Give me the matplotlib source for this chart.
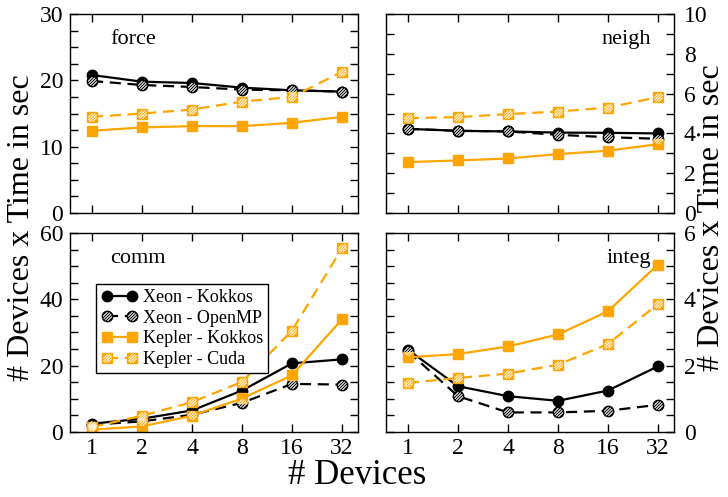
import numpy as np
import matplotlib.pyplot as plt
from matplotlib.path import Path
from matplotlib.legend_handler import HandlerTuple

plt.rcParams['font.family']='Liberation Serif'

devices=[1,2,4,8,16,32]
labels=["Xeon - Kokkos","Xeon - OpenMP","Kepler - Kokkos","Kepler - Cuda"]

force_xk=[20.8,19.8,19.6,18.9,18.5,18.3]
force_xo=[19.9,19.3,19.0,18.6,18.5,18.3]
force_kk=[12.4,12.9,13.1,13.1,13.6,14.5]
force_kc=[14.5,15.0,15.6,16.8,17.5,21.3]

neigh_xk=[4.23,4.13,4.10,4.04,4.03,4.00]
neigh_xo=[4.23,4.13,4.10,3.93,3.81,3.73]
neigh_kk=[2.56,2.64,2.74,2.96,3.13,3.46]
neigh_kc=[4.77,4.82,4.97,5.10,5.30,5.82]

comm_xk=[2.5,4.0,6.5,12.5,20.7,21.9]
comm_xo=[2.2,3.2,5.2,8.8,14.5,14.3]
comm_kk=[0.7,1.7,4.9,10.1,17.1,34.0]
comm_kc=[1.5,4.9,9.0,15.1,30.6,55.4]

integ_xk=[2.48,1.38,1.08,0.94,1.25,1.98]
integ_xo=[2.43,1.08,0.59,0.59,0.64,0.82]
integ_kk=[2.25,2.35,2.58,2.94,3.64,5.05]
integ_kc=[1.48,1.63,1.76,2.03,2.65,3.86]

orange='#FFA500'
x=np.arange(len(devices))

# hatch marker shapes: diagonal strokes clipped to a circle / square
def hatch_path(shape):
        verts=[]
        codes=[]
        for c in [-1.0,-0.33,0.33,1.0]:
                if shape=='o':
                        r=np.sqrt(2-c*c)
                        x0=(-c-r)/2
                        x1=(-c+r)/2
                        verts+=[(x0,x0+c),(x1,x1+c)]
                else:
                        if c>=0:
                                verts+=[(-1,-1+c),(1-c,1)]
                        else:
                                verts+=[(-1-c,-1),(1,1+c)]
                codes+=[Path.MOVETO,Path.LINETO]
        # invisible corners keep the scale the same as the base marker
        verts+=[(-1,-1),(-1,-1),(1,1),(1,1)]
        codes+=[Path.MOVETO,Path.LINETO,Path.MOVETO,Path.LINETO]
        return Path(verts,codes)

hatch_o=hatch_path('o')
hatch_s=hatch_path('s')

def series(ax,y,col,marker,dashed,hatched):
        ls=(0,(5,3)) if dashed else '-'
        ms=7.5 if marker=='o' else 7
        ln,=ax.plot(x,y,color=col,lw=1.6,ls=ls,marker=marker,ms=ms,mfc=col,mec=col,zorder=2)
        if not hatched:
                return ln
        hp=hatch_o if marker=='o' else hatch_s
        hl,=ax.plot(x,y,ls='none',marker=hp,ms=ms*0.85,mfc='none',mec='white',mew=0.75,zorder=3)
        return (ln,hl)

def panel(rect,xk,xo,kk,kc,ymax,major,minor,name,namex,ha,right,bottom):
        ax=fig.add_axes(rect)
        h1=series(ax,xk,'black','o',False,False)
        h2=series(ax,xo,'black','o',True,True)
        h3=series(ax,kk,orange,'s',False,False)
        h4=series(ax,kc,orange,'s',True,True)
        ax.set_xlim(-0.44,5.32)
        ax.set_ylim(0,ymax)
        ax.set_xticks(x)
        ax.set_yticks(np.arange(0,ymax+0.01,major))
        ax.set_yticks(np.arange(0,ymax+0.01,minor),minor=True)
        ax.tick_params(which='both',direction='in',top=True,right=True,length=6,width=1,labelsize=17)
        ax.tick_params(axis='y',pad=5)
        ax.tick_params(axis='x',pad=4)
        if bottom:
                ax.set_xticklabels([str(d) for d in devices])
        else:
                ax.set_xticklabels([])
        if right:
                ax.yaxis.tick_right()
                ax.tick_params(which='both',left=True,direction='in')
                ax.tick_params(axis='y',pad=7)
        for sp in ax.spines.values():
                sp.set_linewidth(1)
        ax.text(namex,0.85,name,transform=ax.transAxes,fontsize=16,ha=ha)
        return ax,[h1,h2,h3,h4]

fig=plt.figure(figsize=(7.28,4.97),dpi=100)
panel([0.0962,0.5714,0.3956,0.4004],force_xk,force_xo,force_kk,force_kc,30,10,2.5,"force",0.14,'left',False,False)
panel([0.5302,0.5714,0.3956,0.4004],neigh_xk,neigh_xo,neigh_kk,neigh_kc,10,2,1,"neigh",0.92,'right',True,False)
ax3,hs=panel([0.0962,0.1308,0.3956,0.4004],comm_xk,comm_xo,comm_kk,comm_kc,60,20,5,"comm",0.14,'left',False,True)
panel([0.5302,0.1308,0.3956,0.4004],integ_xk,integ_xo,integ_kk,integ_kc,6,2,0.5,"integ",0.92,'right',True,True)

leg=ax3.legend(hs,labels,handler_map={tuple:HandlerTuple(ndivide=1)},loc='upper left',bbox_to_anchor=(0.09,0.745),
        fontsize=13,numpoints=2,handlelength=2.0,handletextpad=0.3,
        labelspacing=0.2,borderpad=0.3,borderaxespad=0,fancybox=False,framealpha=1,edgecolor='black')
leg.get_frame().set_linewidth(1)

fig.text(0.029,0.541,"# Devices x Time in sec",rotation=90,fontsize=23,ha='center',va='center')
fig.text(0.978,0.563,"# Devices x Time in sec",rotation=90,fontsize=23,ha='center',va='center')
fig.text(0.49,0.043,"# Devices",fontsize=25,ha='center',va='center')

fig.savefig('out.png',dpi=100)
